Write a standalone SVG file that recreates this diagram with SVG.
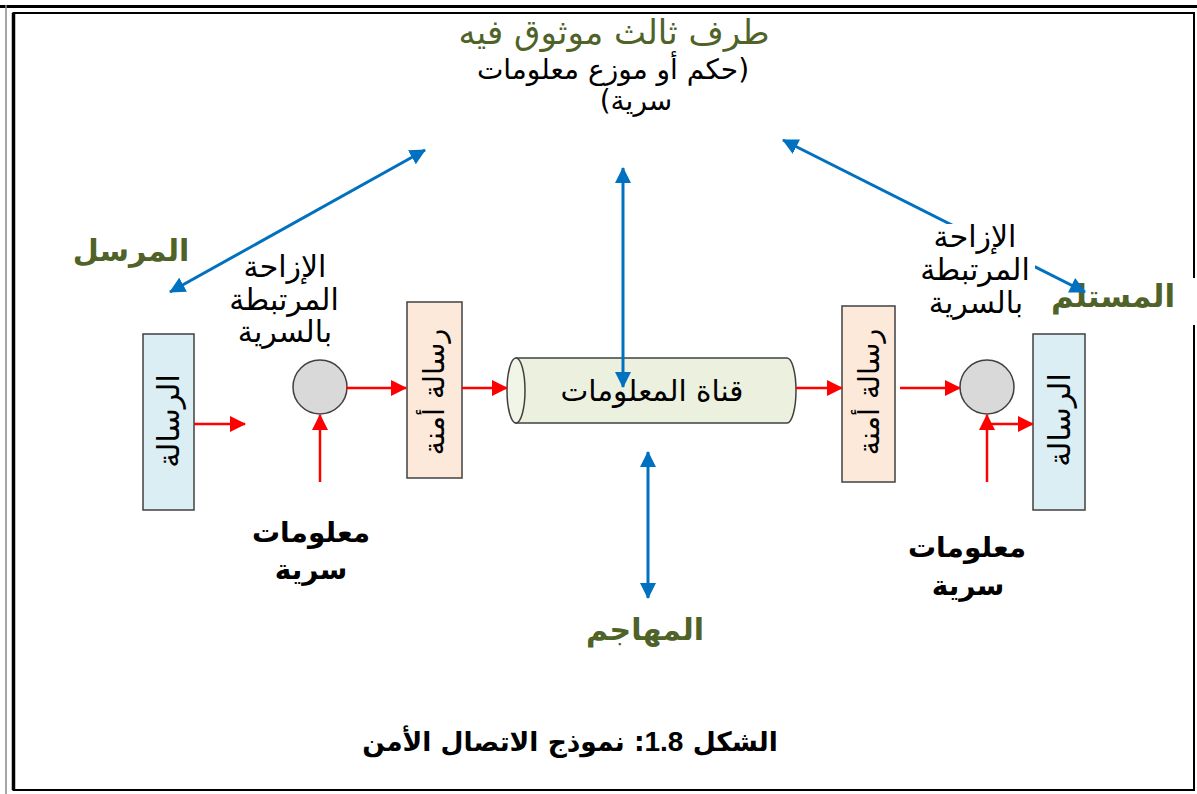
<svg xmlns="http://www.w3.org/2000/svg" width="1197" height="794" viewBox="0 0 1197 794">
<style>
text{font-family:"DejaVu Sans",sans-serif;direction:rtl;text-anchor:middle}
.g{fill:#4f6228;font-size:30px;font-weight:bold}
.k{fill:#000;font-size:30px}
.kb{fill:#000;font-size:28px;font-weight:bold}
.box{stroke:#404040;stroke-width:1.5}
.blue{stroke:#0070c0;stroke-width:3;fill:none;marker-start:url(#ab);marker-end:url(#ab)}
.red{stroke:#ff0000;stroke-width:2.5;fill:none;marker-end:url(#ar)}
</style>
<defs>
<marker id="ab" viewBox="0 0 16 16" refX="15" refY="8" markerWidth="16" markerHeight="16" markerUnits="userSpaceOnUse" orient="auto-start-reverse"><path d="M0,0 L16,8 L0,16 z" fill="#0070c0"/></marker>
<marker id="ar" viewBox="0 0 16 16" refX="15" refY="8" markerWidth="16" markerHeight="16" markerUnits="userSpaceOnUse" orient="auto"><path d="M0,0 L16,8 L0,16 z" fill="#ff0000"/></marker>
</defs>
<rect width="1197" height="794" fill="#fff"/>
<g id="frame" fill="none">
<line x1="0" y1="6.5" x2="1197" y2="6.5" stroke="#000" stroke-width="3"/>
<line x1="6" y1="5" x2="6" y2="794" stroke="#888" stroke-width="1.5"/>
<rect x="13.5" y="13" width="1180.5" height="777" stroke="#000" stroke-width="2"/>
<line x1="13.5" y1="13" x2="13.5" y2="790" stroke="#000" stroke-width="3.5"/>
</g>
<g id="receiver-label">
<rect x="1048" y="278" width="149" height="47" fill="#fff"/>
<text class="g" x="1113" y="307" style="font-size:31px">المستلم</text>
</g>
<g id="trusted-third-party">
<text class="g" x="614" y="44" style="font-size:34px;font-weight:normal">طرف ثالث موثوق فيه</text>
<text class="k" x="613" y="79" style="font-size:28px">(حكم أو موزع معلومات</text>
<text class="k" x="636" y="110" style="font-size:28px">سرية)</text>
</g>
<g id="sender-label"><text class="g" x="131" y="261">المرسل</text></g>
<g id="sender-message">
<rect class="box" x="143" y="334" width="51" height="176" fill="#dbeef4"/>
<text class="k" transform="translate(168,421) rotate(-90)" dominant-baseline="central">الرسالة</text>
</g>
<g id="sender-key-label">
<text class="k" x="285" y="277">الإزاحة</text>
<text class="k" x="284" y="310">المرتبطة</text>
<text class="k" x="285" y="342">بالسرية</text>
</g>
<g id="sender-encrypt"><circle cx="320" cy="387" r="27" fill="#d9d9d9" stroke="#404040" stroke-width="1.5"/></g>
<g id="sender-secret"><text class="kb" x="311" y="542">معلومات</text><text class="kb" x="311" y="579">سرية</text></g>
<g id="sender-secure">
<rect class="box" x="407" y="302" width="55" height="176" fill="#fde9d9"/>
<text class="k" transform="translate(434,392) rotate(-90)" dominant-baseline="central" style="font-size:28.5px">رسالة أمنة</text>
</g>
<g id="channel">
<path d="M516,358 L787,358 A9,32.5 0 0 1 787,423 L516,423 Z" fill="#ebf1de" stroke="#404040" stroke-width="1.5"/>
<ellipse cx="516" cy="390.5" rx="9" ry="32.5" fill="#f1f5e8" stroke="#404040" stroke-width="1.5"/>
<text class="k" x="652" y="401" style="font-size:29.5px">قناة المعلومات</text>
</g>
<g id="attacker"><text class="g" x="645" y="640">المهاجم</text></g>
<g id="receiver-secure">
<rect class="box" x="842" y="306" width="53" height="176" fill="#fde9d9"/>
<text class="k" transform="translate(869,392) rotate(-90)" dominant-baseline="central" style="font-size:28.5px">رسالة أمنة</text>
</g>
<g id="receiver-decrypt"><circle cx="987" cy="387" r="27" fill="#d9d9d9" stroke="#404040" stroke-width="1.5"/></g>
<g id="receiver-secret"><text class="kb" x="967" y="557">معلومات</text><text class="kb" x="968" y="595">سرية</text></g>
<g id="receiver-message">
<rect class="box" x="1033" y="334" width="52" height="176" fill="#dbeef4"/>
<text class="k" transform="translate(1059,420) rotate(-90)" dominant-baseline="central">الرسالة</text>
</g>
<g id="caption"><text class="kb" x="570" y="751" style="font-size:26.5px">الشكل <tspan style="font-family:'Liberation Sans',sans-serif;font-size:28px">1.8</tspan>: نموذج الاتصال الأمن</text></g>
<g id="connectors">
<line class="blue" x1="425" y1="150" x2="170" y2="292"/>
<line class="blue" x1="623" y1="168" x2="623" y2="387"/>
<line class="blue" x1="783" y1="140" x2="1085" y2="292"/>
<line class="blue" x1="648" y1="452" x2="648" y2="598"/>
<line class="red" x1="194" y1="424" x2="245" y2="424"/>
<line class="red" x1="346" y1="388" x2="406" y2="388"/>
<line class="red" x1="320" y1="482" x2="320" y2="415"/>
<line class="red" x1="462" y1="388" x2="507" y2="388"/>
<line class="red" x1="796" y1="388" x2="842" y2="388"/>
<line class="red" x1="900" y1="388" x2="960" y2="388"/>
<line class="red" x1="987" y1="482" x2="987" y2="415"/>
<line class="red" x1="987" y1="424" x2="1033" y2="424"/>
</g>
<g id="receiver-key-label">
<rect x="915" y="224" width="120" height="101" fill="#fff"/>
<text class="k" x="975" y="247">الإزاحة</text>
<text class="k" x="975" y="280">المرتبطة</text>
<text class="k" x="976" y="313">بالسرية</text>
</g>
</svg>
